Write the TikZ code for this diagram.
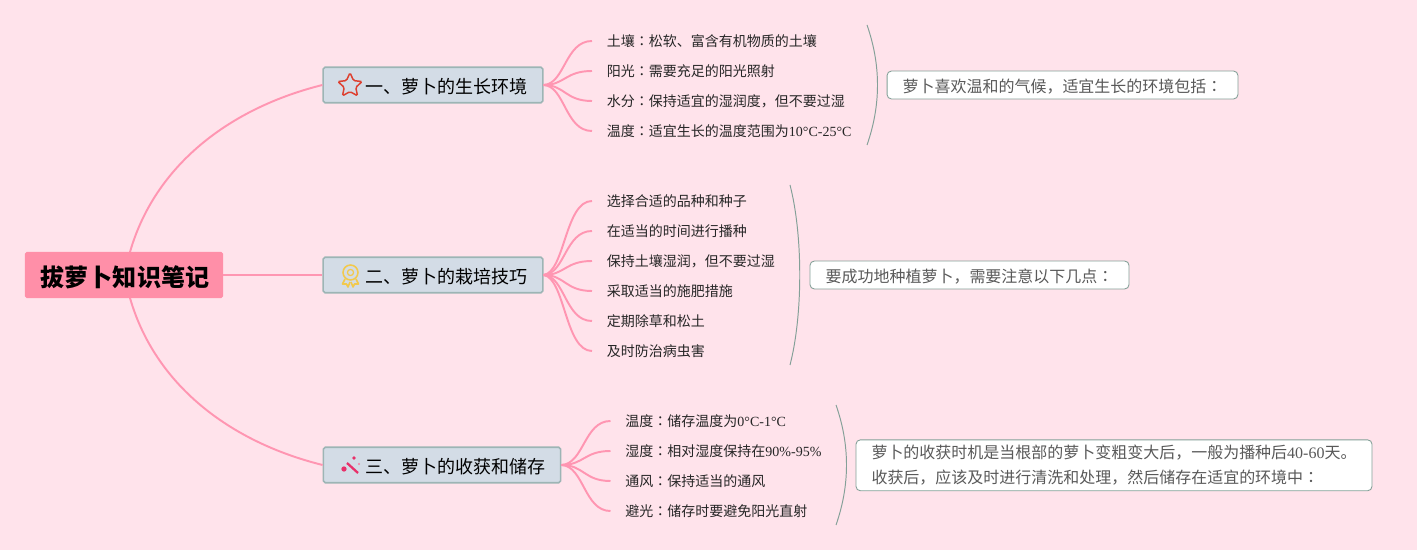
\documentclass[tikz,border=0pt]{standalone}
\usepackage{fontspec}
\setmainfont{Noto Sans CJK SC}
\newfontfamily\lat{Liberation Serif}
\newfontfamily\tcfont{Noto Sans CJK TC}
\newcommand{\midcolon}{{\tcfont ：}}
\usetikzlibrary{shapes.geometric}
\definecolor{bgpink}{HTML}{FFE3EB}
\definecolor{rootpink}{HTML}{FF8FA8}
\definecolor{linepink}{HTML}{FF96B2}
\definecolor{topicfill}{HTML}{D3DCE6}
\definecolor{topicline}{HTML}{9DB5B5}
\definecolor{bracketline}{HTML}{84A098}
\definecolor{notetext}{HTML}{595959}
\definecolor{staricon}{HTML}{DD4030}
\definecolor{medalicon}{HTML}{F2C94C}
\definecolor{wandicon}{HTML}{E8306A}
\tikzset{
  rootbox/.style={fill=rootpink,rounded corners=1pt,minimum width=112.7pt,minimum height=26.2pt,inner sep=0pt,text height=12.8pt,text depth=0pt,font=\fontsize{13.7}{16}\selectfont\bfseries},
  topicbox/.style={draw=topicline,fill=topicfill,line width=0.9pt,rounded corners=1pt,text width=#1,align=right,inner xsep=8.5pt,inner ysep=0pt,minimum height=20.2pt,text height=10pt,text depth=0pt,font=\fontsize{10.25}{12}\selectfont},
  childtext/.style={anchor=west,inner xsep=8.3pt,inner ysep=0pt,font=\fontsize{7.97}{10}\selectfont,text=black!85},
  notebox/.style={draw=bracketline,fill=white,line width=0.5pt,rounded corners=2.5pt,text=notetext,inner sep=0pt,font=\fontsize{9.1}{14.2}\selectfont},
  rootlink/.style={draw=linepink,line width=1.1pt},
  branch/.style={draw=linepink,line width=1.1pt},
  bracket/.style={draw=bracketline,line width=0.55pt}
}
\begin{document}
\begin{tikzpicture}[x=0.02cm,y=-0.02cm]
\fill[bgpink] (0,0) rectangle (1417,550);
\useasboundingbox (0,0) rectangle (1417,550);
% root
\node[rootbox] (root) at (124,275) {\hspace*{1.1pt}拔萝卜知识笔记};
\coordinate (rootup) at (130,252);
\coordinate (rootdown) at (130,298);
% topics
\node[topicbox=108pt] (envtopic) at (433,85) {一、萝卜的生长环境};
\node[topicbox=108pt] (growtopic) at (433,275) {二、萝卜的栽培技巧};
\node[topicbox=118pt] (keeptopic) at (442,465) {三、萝卜的收获和储存};
\draw[rootlink] (rootup) .. controls (155,165) and (230,108) .. (envtopic.west);
\draw[rootlink] (root.east) -- (growtopic.west);
\draw[rootlink] (rootdown) .. controls (155,385) and (230,442) .. (keeptopic.west);
% icons
\node[star,star points=5,star point ratio=2.1,draw=staricon,line width=0.85pt,rounded corners=0.8pt,minimum size=14.5pt,inner sep=0pt] (iconstar) at (350,85.5) {};
\node[circle,draw=medalicon,line width=0.9pt,minimum size=8.5pt,inner sep=0pt] (iconmedal) at (350.5,272.5) {};
\node[circle,draw=medalicon,line width=0.7pt,minimum size=3.5pt,inner sep=0pt] (medalcore) at (350.5,272.5) {};
\draw[medalicon,line width=0.9pt,line join=round] (345,279) -- (342.5,284) -- (346.5,284) -- (348,287) -- (350,282);
\draw[medalicon,line width=0.9pt,line join=round] (356,279) -- (358.5,284) -- (354.5,284) -- (353,287) -- (351,282);
\draw[wandicon,line width=1.3pt] (347,463) -- (358,473);
\node[circle,fill=wandicon,minimum size=3pt,inner sep=0pt] (wanddota) at (344,469) {};
\node[circle,fill=wandicon,minimum size=2.2pt,inner sep=0pt] (wanddotb) at (354,458) {};
\node[circle,fill=wandicon!60,minimum size=1.3pt,inner sep=0pt] (wanddotc) at (359,464) {};
% first group
\node[childtext] (soil) at (592,41) {土壤\midcolon 松软、富含有机物质的土壤};
\node[childtext] (sun) at (592,71) {阳光\midcolon 需要充足的阳光照射};
\node[childtext] (water) at (592,101) {水分\midcolon 保持适宜的湿润度，但不要过湿};
\node[childtext] (heat) at (592,131) {温度\midcolon 适宜生长的温度范围为{\lat 10°C-25°C}};
\draw[branch] (envtopic.east) .. controls (565,84) and (565,41) .. (soil.west);
\draw[branch] (envtopic.east) .. controls (565,85) and (565,71) .. (sun.west);
\draw[branch] (envtopic.east) .. controls (565,85) and (565,101) .. (water.west);
\draw[branch] (envtopic.east) .. controls (565,86) and (565,131) .. (heat.west);
\coordinate (envtop) at (867,25);
\coordinate (envbot) at (867,145);
\draw[bracket] (envtop) .. controls (881,65) and (881,105) .. (envbot);
\node[notebox,minimum width=199.7pt,minimum height=15.9pt,text height=8.2pt,text depth=0pt] (envnote) at (1062.5,85) {萝卜喜欢温和的气候，适宜生长的环境包括\midcolon};
% second group
\node[childtext] (seed) at (592,201) {选择合适的品种和种子};
\node[childtext] (sow) at (592,231) {在适当的时间进行播种};
\node[childtext] (damp) at (592,261) {保持土壤湿润，但不要过湿};
\node[childtext] (feed) at (592,291) {采取适当的施肥措施};
\node[childtext] (weed) at (592,321) {定期除草和松土};
\node[childtext] (pest) at (592,351) {及时防治病虫害};
\draw[branch] (growtopic.east) .. controls (565,272) and (565,201) .. (seed.west);
\draw[branch] (growtopic.east) .. controls (565,274) and (565,231) .. (sow.west);
\draw[branch] (growtopic.east) .. controls (565,275) and (565,261) .. (damp.west);
\draw[branch] (growtopic.east) .. controls (565,275) and (565,291) .. (feed.west);
\draw[branch] (growtopic.east) .. controls (565,276) and (565,321) .. (weed.west);
\draw[branch] (growtopic.east) .. controls (565,278) and (565,351) .. (pest.west);
\coordinate (growtop) at (790,185);
\coordinate (growbot) at (790,365);
\draw[bracket] (growtop) .. controls (803,235) and (803,315) .. (growbot);
\node[notebox,minimum width=181.6pt,minimum height=15.9pt,text height=8.2pt,text depth=0pt] (grownote) at (969.5,275) {要成功地种植萝卜，需要注意以下几点\midcolon};
% third group
\node[childtext] (cold) at (610.5,421) {温度\midcolon 储存温度为{\lat 0°C-1°C}};
\node[childtext] (wet) at (610.5,451) {湿度\midcolon 相对湿度保持在{\lat 90\%-95\%}};
\node[childtext] (air) at (610.5,481) {通风\midcolon 保持适当的通风};
\node[childtext] (shade) at (610.5,511) {避光\midcolon 储存时要避免阳光直射};
\draw[branch] (keeptopic.east) .. controls (584,464) and (584,421) .. (cold.west);
\draw[branch] (keeptopic.east) .. controls (584,465) and (584,451) .. (wet.west);
\draw[branch] (keeptopic.east) .. controls (584,465) and (584,481) .. (air.west);
\draw[branch] (keeptopic.east) .. controls (584,466) and (584,511) .. (shade.west);
\coordinate (keeptop) at (836,405);
\coordinate (keepbot) at (836,525);
\draw[bracket] (keeptop) .. controls (850,445) and (850,485) .. (keepbot);
\node[notebox,minimum width=293.7pt,minimum height=29pt,align=left] (keepnote) at (1114,465.3) {萝卜的收获时机是当根部的萝卜变粗变大后，一般为播种后{\lat 40-60}天。\\收获后，应该及时进行清洗和处理，然后储存在适宜的环境中\midcolon};
\end{tikzpicture}
\end{document}
